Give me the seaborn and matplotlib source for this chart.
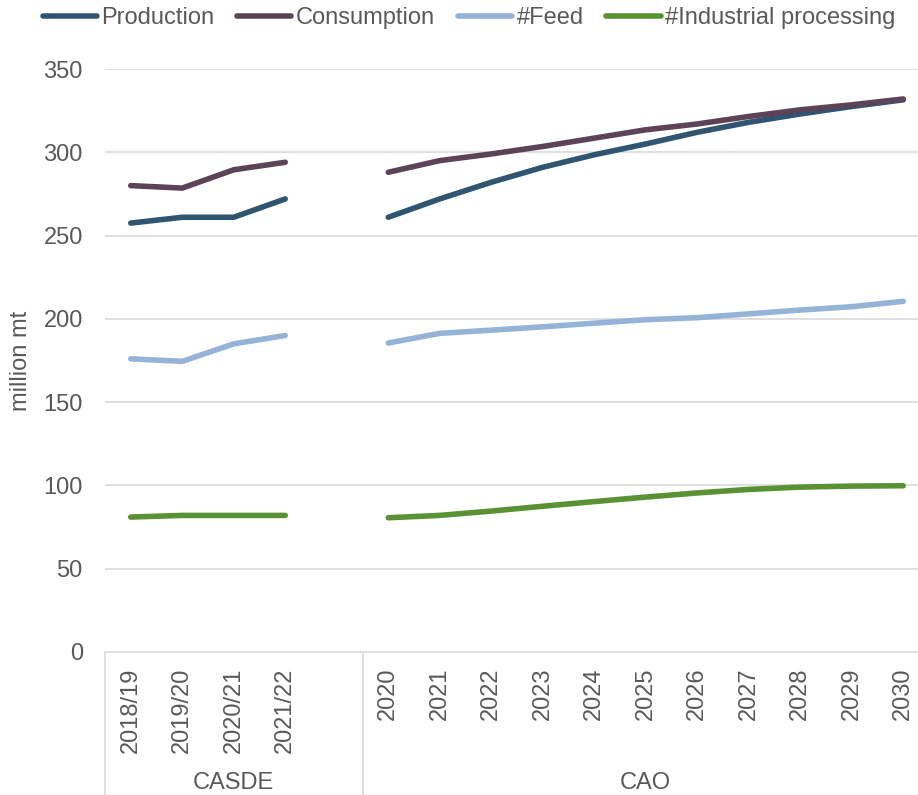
import matplotlib
matplotlib.use("Agg")
import matplotlib.pyplot as plt
import matplotlib.transforms as mtransforms
from matplotlib.lines import Line2D
import numpy as np
import pandas as pd
import seaborn as sns

# x categories (blank slot separates the two groups)
categories = ["2018/19", "2019/20", "2020/21", "2021/22", "",
              "2020", "2021", "2022", "2023", "2024", "2025",
              "2026", "2027", "2028", "2029", "2030"]
groups = ["CASDE", "CAO"]

production = [257.5, 261, 261, 272, None,
              261, 272, 282, 291, 298.5, 305, 312, 318, 323, 327.5, 331.5]
consumption = [280, 278.5, 289.5, 294, None,
               288, 295, 299, 303.5, 308.5, 313.5, 317, 321.5, 325.5, 328.5, 332]
feed = [176, 174.5, 185, 190, None,
        185.5, 191.3, 193.2, 195.2, 197.4, 199.5, 200.7, 203, 205.3, 207.3, 210.5]
industrial = [81, 82, 82, 82, None,
              80.6, 82, 84.6, 87.5, 90.3, 93, 95.5, 97.6, 99, 99.6, 99.8]

series_names = ["Production", "Consumption", "#Feed", "#Industrial processing"]
colors = ["#2F5571", "#5C4358", "#95B3D7", "#5A9133"]

rows = []
for name, vals in zip(series_names, [production, consumption, feed, industrial]):
    for i, v in enumerate(vals):
        if v is None:
            continue
        rows.append({"series": name, "x": i, "value": v,
                     "segment": "CASDE" if i < 4 else "CAO"})
df = pd.DataFrame(rows)

sns.set_style("white")
plt.rcParams["font.family"] = ["Liberation Sans", "DejaVu Sans"]
text_color = "#595959"
grid_color = "#D9D9D9"
fs = 17

fig = plt.figure(figsize=(9.18, 7.95), dpi=100)
ax = fig.add_axes([105 / 918, 1 - 652 / 795, 824 / 918, 583 / 795])

sns.lineplot(data=df, x="x", y="value", hue="series", units="segment",
             estimator=None, palette=dict(zip(series_names, colors)),
             hue_order=series_names, linewidth=4, legend=False, ax=ax,
             solid_capstyle="round")

ax.set_xlim(-0.5, 15.5)
ax.set_ylim(0, 350)
ax.set_yticks(np.arange(0, 351, 50))
ax.yaxis.grid(True, color=grid_color, linewidth=1.2)
ax.set_axisbelow(True)
for s in ["left", "right", "top"]:
    ax.spines[s].set_visible(False)
ax.spines["bottom"].set_color(grid_color)
ax.spines["bottom"].set_linewidth(1.2)

ax.set_xticks(range(len(categories)))
ax.set_xticklabels(categories, rotation=90, fontsize=fs, color=text_color)
ax.tick_params(axis="x", length=0, pad=11)
ax.tick_params(axis="y", length=0, pad=16, labelsize=fs, labelcolor=text_color)
ax.set_xlabel("")
ax.set_ylabel("million mt", fontsize=fs, color=text_color, labelpad=8)

# group separators and labels below the axis
trans = mtransforms.blended_transform_factory(ax.transData, ax.transAxes)
for xb in [-0.5, 4.5, 15.5]:
    ax.add_line(Line2D([xb, xb], [0, -0.26], transform=trans, color=grid_color,
                       linewidth=1.2, clip_on=False))
ax.text(2, -0.2247, groups[0], transform=trans, ha="center", va="center",
        fontsize=fs, color=text_color)
ax.text(10, -0.2247, groups[1], transform=trans, ha="center", va="center",
        fontsize=fs, color=text_color)

handles = [Line2D([0], [0], color=c, linewidth=4, solid_capstyle="round")
           for c in colors]
fig.legend(handles, series_names, loc="center", bbox_to_anchor=(0.511, 0.977),
           ncol=4, frameon=False, fontsize=fs, labelcolor=text_color,
           handlelength=2.3, handletextpad=0.2, columnspacing=0.95,
           borderaxespad=0, borderpad=0)

fig.savefig("out.png", dpi=100)
